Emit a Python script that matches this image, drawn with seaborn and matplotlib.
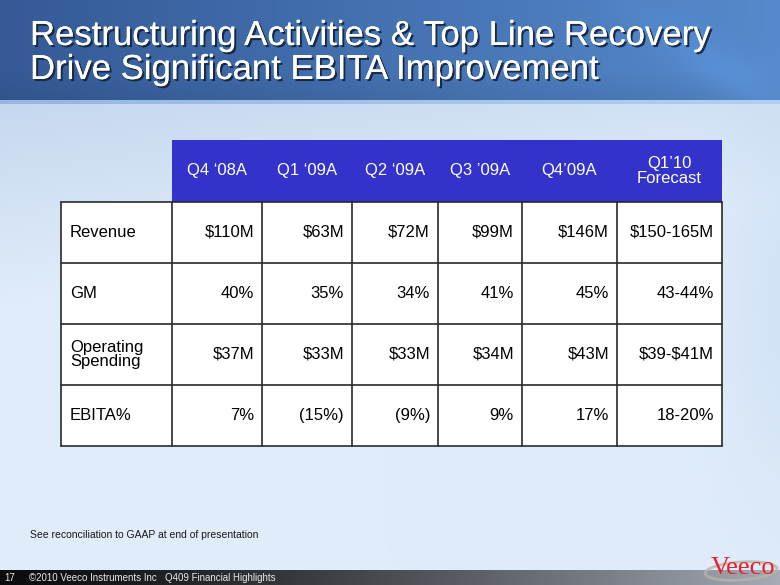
#!/usr/bin/env python3
# coding=utf-8

from matplotlib import pyplot as plt
from matplotlib import patheffects as pe
from matplotlib.patches import Rectangle, Ellipse
import pandas as pd
import seaborn as sns
import numpy as np

# table data
periods = ["Q4 \u201808A", "Q1 \u201809A", "Q2 \u201809A", "Q3 \u201909A", "Q4\u201909A", "Q1\u201910\nForecast"]
metrics = ["Revenue", "GM", "Operating\nSpending", "EBITA%"]
revenue = ["$110M", "$63M", "$72M", "$99M", "$146M", "$150-165M"]
gross_margin = ["40%", "35%", "34%", "41%", "45%", "43-44%"]
op_spending = ["$37M", "$33M", "$33M", "$34M", "$43M", "$39-$41M"]
ebita = ["7%", "(15%)", "(9%)", "9%", "17%", "18-20%"]

title_lines = ["Restructuring Activities & Top Line Recovery", "Drive Significant EBITA Improvement"]
note = "See reconciliation to GAAP at end of presentation"
footer = "\u00a92010 Veeco Instruments Inc   Q409 Financial Highlights"

df = pd.DataFrame([revenue, gross_margin, op_spending, ebita], index=metrics, columns=periods)

sns.set_style("white")
plt.rcParams["font.family"] = ["Liberation Sans", "DejaVu Sans"]

W, H = 780, 585
fig = plt.figure(figsize=(7.8, 5.85), dpi=100)
ax = fig.add_axes([0, 0, 1, 1])
ax.set_xlim(0, W)
ax.set_ylim(H, 0)
ax.axis("off")


def mix(c1, c2, t):
    c1 = np.array(c1) / 255.0
    c2 = np.array(c2) / 255.0
    t = np.clip(t, 0, 1)[..., None]
    return c1 * (1 - t) + c2 * t


# background (smooth light blue slide)
yy, xx = np.mgrid[0:H, 0:W]
bg = mix((198, 216, 240), (224, 236, 249), (yy - 104) / 200.0 + xx / 1500.0)
edge = np.exp(-((xx - 790) / 70.0) ** 2) * np.exp(-((yy - 300) / 200.0) ** 2)
bg = bg * (1 - edge[..., None] * 0.06) + edge[..., None] * np.array([0.0, 0.02, 0.05])
band = mix((52, 90, 150), (86, 138, 204), xx / 780.0)
band = band * (1 - 0.07 * np.clip((yy - 70) / 30.0, 0, 1))[..., None]
swoosh = np.exp(-((yy - 30 - (xx - 660) * 0.7) / 30.0) ** 2) * np.clip((xx - 580) / 200.0, 0, 1)
band = band + swoosh[..., None] * np.array([0.03, 0.05, 0.07])
bg = np.where((yy < 100)[..., None], band, bg)
bg = np.where(((yy >= 100) & (yy < 104))[..., None], mix((150, 182, 224), (175, 208, 242), xx / 780.0), bg)
foot = mix((12, 12, 14), (165, 172, 182), (xx / 780.0) ** 1.3)
bg = np.where((yy >= 570)[..., None], foot, bg)
ax.imshow(np.clip(bg, 0, 1), extent=(0, W, H, 0), aspect="auto", zorder=0)

# title
shadow = [pe.withSimplePatchShadow(offset=(1.5, -1.5), shadow_rgbFace="#15233a", alpha=0.9), pe.Normal()]
for k, line in enumerate(title_lines):
    ax.text(30, 45 + 34 * k, line, color="white", fontsize=25, ha="left", va="baseline",
            path_effects=shadow, zorder=5)

# table geometry
col_edges = [61, 172, 262, 352, 438, 522, 617, 722]
row_edges = [202, 263, 324, 385, 446]
head_top = 140
fs = 12

ax.add_patch(Rectangle((col_edges[1], head_top), col_edges[-1] - col_edges[1], row_edges[0] - head_top,
                       facecolor="#3333cc", edgecolor="none", zorder=2))
ax.add_patch(Rectangle((col_edges[0], row_edges[0]), col_edges[-1] - col_edges[0], row_edges[-1] - row_edges[0],
                       facecolor="white", edgecolor="none", zorder=2))

for j, p in enumerate(df.columns):
    xc = (col_edges[j + 1] + col_edges[j + 2]) / 2
    ax.text(xc, (head_top + row_edges[0]) / 2, p, color="white", fontsize=fs, ha="center", va="center",
            linespacing=1.0, zorder=4)

for i, m in enumerate(df.index):
    yc = (row_edges[i] + row_edges[i + 1]) / 2
    ax.text(col_edges[0] + 9, yc, m, color="black", fontsize=fs, ha="left", va="center",
            linespacing=0.9, zorder=4)
    for j, v in enumerate(df.loc[m]):
        ax.text(col_edges[j + 2] - 8, yc, v, color="black", fontsize=fs, ha="right", va="center",
                parse_math=False, zorder=4)

for y in row_edges:
    ax.plot([col_edges[0], col_edges[-1]], [y, y], color="#2a2a2a", lw=1.2, zorder=3)
for x in col_edges:
    ax.plot([x, x], [row_edges[0], row_edges[-1]], color="#2a2a2a", lw=1.2, zorder=3)

# notes and footer
ax.text(30, 535, note, color="#1a1a1a", fontsize=7.5, ha="left", va="center", zorder=4)
ax.text(4, 578, "17", color="#e8e8e8", fontsize=7, ha="left", va="center", zorder=4)
ax.text(29, 578, footer, color="#e8e8e8", fontsize=7, ha="left", va="center", zorder=4)

# logo
ax.add_patch(Ellipse((741, 571), 72, 18, angle=-4, facecolor="none", edgecolor="#b9b4a8",
                     lw=2.0, alpha=0.8, zorder=4))
ax.text(711, 574, "Veeco", color="#e8202a", fontsize=19, family=["Liberation Serif", "DejaVu Serif"],
        ha="left", va="baseline", zorder=5)

plt.savefig("out.png", dpi=100)
plt.close()
